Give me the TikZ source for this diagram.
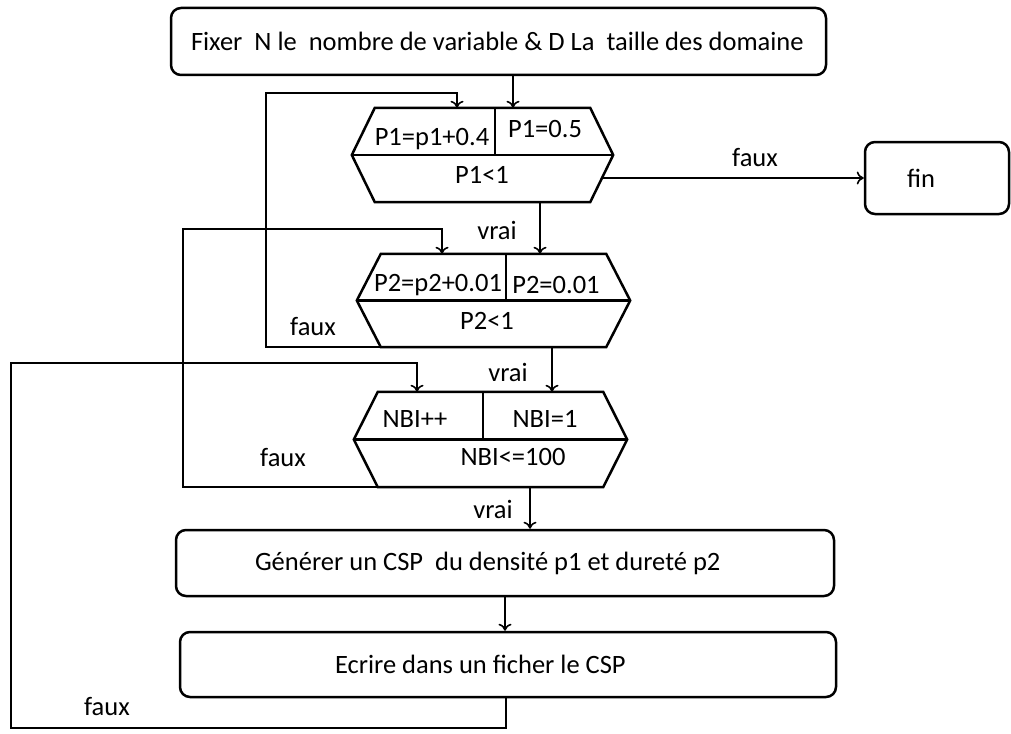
\documentclass[tikz,border=0pt]{standalone}
\usepackage{fontspec}
\setmainfont{Carlito}
\usetikzlibrary{arrows.meta}
\newcommand\drawhex[3]{%
  \draw[hexline] (#1.west) -- ([xshift=#2]#1.north west) -- ([xshift=-#2]#1.north east) -- (#1.east) -- ([xshift=-#2]#1.south east) -- ([xshift=#2]#1.south west) -- cycle;
  \draw[hexline] (#1.west) -- (#1.east);
  \draw[hexline] (#1.north -| #3) -- (#1.center -| #3);}
\begin{document}
\begin{tikzpicture}[x=1pt,y=-1pt,
  font=\fontsize{26.5}{31}\selectfont,
  box/.style={draw, line width=2.5pt, rounded corners=10pt, inner ysep=0pt, inner xsep=20pt},
  hexa/.style={inner sep=0pt},
  txt/.style={inner sep=0pt},
  arr/.style={line width=1.6pt, -{To[length=7pt,width=13pt]}},
  hexline/.style={line width=2.5pt, line join=miter}]
\useasboundingbox (0,0) rectangle (1011,733);

% boxes
\node[box, minimum width=655pt, minimum height=67pt] (top) at (498.5,41.5)
  {\makebox[615pt][l]{Fixer\ \ N le\ \ nombre de variable \& D La\ \ taille des domaine}};
\node[box, inner xsep=10pt, minimum width=144pt, minimum height=72pt] (fin) at (937,178)
  {\makebox[124pt][l]{\hspace*{32pt}fin}};
\node[box, minimum width=658pt, minimum height=66pt] (gen) at (505,563)
  {\makebox[618pt][l]{\hspace*{59pt}Générer un CSP\ \ du densité p1 et dureté p2}};
\node[box, minimum width=656pt, minimum height=65pt] (ecr) at (508,664.5)
  {\makebox[616pt][l]{\hspace*{135pt}Ecrire dans un ficher le CSP}};

% hexagons
\node[hexa, minimum width=261pt, minimum height=94pt] (h1) at (482.5,155) {};
\node[hexa, minimum width=273pt, minimum height=93pt] (h2) at (493.5,300.5) {};
\node[hexa, minimum width=273pt, minimum height=95pt] (h3) at (490.5,439.5) {};
\coordinate (d1) at (495,0);
\coordinate (d2) at (506,0);
\coordinate (d3) at (483,0);
\drawhex{h1}{23pt}{d1}
\drawhex{h2}{24pt}{d2}
\drawhex{h3}{24pt}{d3}

\node[txt] (h1a) at (432,139) {P1=p1+0.4};
\node[txt] (h1b) at (545,129) {P1=0.5};
\node[txt] (h1c) at (482,175) {P1<1};
\node[txt] (h2a) at (438,285) {P2=p2+0.01};
\node[txt] (h2b) at (556,285) {P2=0.01};
\node[txt] (h2c) at (487,321) {P2<1};
\node[txt] (h3a) at (415,419) {NBI++};
\node[txt] (h3b) at (545,419) {NBI=1};
\node[txt] (h3c) at (513,457) {NBI<=100};

% helper x positions
\coordinate (c513) at (513,0);
\coordinate (c540) at (540,0);
\coordinate (c603) at (603,0);
\coordinate (c552) at (552,0);
\coordinate (c530) at (530,0);
\coordinate (c505) at (505,0);
\coordinate (c506) at (506,0);
\coordinate (a1) at (266,93);
\coordinate (a2) at (457,93);
\coordinate (b1) at (183,229);
\coordinate (b2) at (442,229);
\coordinate (e0) at (11,728);
\coordinate (e1) at (11,363);
\coordinate (e2) at (417,363);

% connectors
\draw[arr] (top.south -| c513) -- (h1.north -| c513);
\draw[arr] (h1.south -| c540) -- (h2.north -| c540);
\draw[arr] (fin.west -| c603) -- (fin.west);
\draw[arr] (h2.south -| c552) -- (h3.north -| c552);
\draw[arr] (h3.south -| c530) -- (gen.north -| c530);
\draw[arr] (gen.south -| c505) -- (ecr.north -| c505);
\draw[arr] ([xshift=24pt]h2.south west) -| (a1) -- (a2) -- (h1.north -| a2);
\draw[arr] ([xshift=24pt]h3.south west) -| (b1) -- (b2) -- (h2.north -| b2);
\draw[arr] (ecr.south -| c506) |- (e0) -- (e1) -- (e2) -- (h3.north -| e2);

% labels
\node[txt] (l1) at (755,158) {faux};
\node[txt] (l2) at (497,230) {vrai};
\node[txt] (l3) at (313,327) {faux};
\node[txt] (l4) at (508,372) {vrai};
\node[txt] (l5) at (283,458) {faux};
\node[txt] (l6) at (493,509) {vrai};
\node[txt] (l7) at (107,707) {faux};
\end{tikzpicture}
\end{document}
